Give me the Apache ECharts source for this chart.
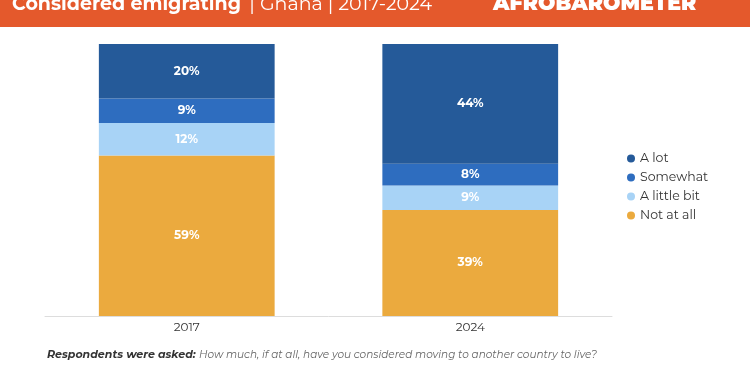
<!DOCTYPE html>
<html>
<head>
<meta charset="utf-8">
<script src="https://cdn.jsdelivr.net/npm/echarts@6/dist/echarts.min.js"></script>
<style>
  html, body { margin: 0; padding: 0; background: #fff; }
  #chart { width: 750px; height: 375px; }
</style>
</head>
<body>
<div id="chart"></div>
<script>
const years = ['2017', '2024']
const aLot = [20, 44]
const somewhat = [9, 8]
const aLittleBit = [12, 9]
const notAtAll = [59, 39]

const font = 'Montserrat, "Open Sans", "Noto Sans", sans-serif'

function makeSeries(name, data, color, labelColor) {
  return {
    name: name,
    type: 'bar',
    stack: 'total',
    data: data,
    barWidth: '62%',
    itemStyle: { color: color },
    label: {
      show: true,
      formatter: '{c}%',
      color: labelColor,
      fontFamily: font,
      fontWeight: 'bold',
      fontSize: 12,
    },
  }
}

const chart = echarts.init(document.getElementById('chart'))
chart.setOption({
  animation: false,
  textStyle: { fontFamily: font },
  grid: { left: 45, right: 138, top: 44, bottom: 59 },
  xAxis: {
    type: 'category',
    data: years,
    axisLine: { lineStyle: { color: '#dddddd' } },
    axisTick: { show: false },
    axisLabel: { color: '#333', fontSize: 12, margin: 5, fontFamily: font },
  },
  yAxis: {
    type: 'value',
    min: 0,
    max: 100,
    show: false,
    splitLine: { show: false },
  },
  legend: {
    orient: 'vertical',
    left: 622,
    top: 147,
    itemGap: 6,
    icon: 'circle',
    itemWidth: 8,
    itemHeight: 8,
    textStyle: { color: '#333', fontSize: 12.5, fontFamily: font },
    data: ['A lot', 'Somewhat', 'A little bit', 'Not at all'],
  },
  series: [
    makeSeries('Not at all', notAtAll, '#ebaa3e', '#fff'),
    makeSeries('A little bit', aLittleBit, '#a8d3f6', '#fff'),
    makeSeries('Somewhat', somewhat, '#2e6dbf', '#fff'),
    makeSeries('A lot', aLot, '#255a99', '#fff'),
  ],
  graphic: [
    {
      type: 'rect',
      left: 0,
      top: 0,
      shape: { width: 750, height: 27 },
      style: { fill: '#e4592c' },
    },
    {
      type: 'text',
      left: 12,
      top: -5,
      style: {
        text: '{b|Considered emigrating} {r| | Ghana | 2017-2024}',
        rich: {
          b: { fontFamily: font, fontWeight: 'bold', fontSize: 19, fill: '#fff' },
          r: { fontFamily: font, fontSize: 19, fill: '#fff' },
        },
      },
    },
    {
      type: 'text',
      left: 493,
      top: -7,
      style: {
        text: 'AFROBAROMETER',
        fontFamily: font,
        fontWeight: 900,
        fontSize: 20.5,
        fill: '#fff',
      },
    },
    {
      type: 'text',
      left: 47,
      top: 349,
      style: {
        text: '{b|Respondents were asked:} {r|How much, if at all, have you considered moving to another country to live?}',
        rich: {
          b: { fontFamily: font, fontWeight: 'bold', fontStyle: 'italic', fontSize: 11, fill: '#333' },
          r: { fontFamily: font, fontStyle: 'italic', fontSize: 10.5, fill: '#666' },
        },
      },
    },
  ],
})
</script>
</body>
</html>
